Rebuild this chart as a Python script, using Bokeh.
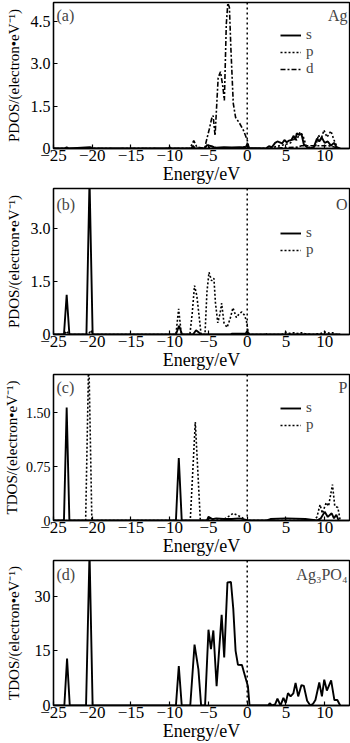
from bokeh.plotting import figure
from bokeh.layouts import column
from bokeh.models import Range1d, FixedTicker, Span, Legend, LegendItem, Label
from bokeh.embed import file_html
from bokeh.resources import INLINE

# ---------------- data (energy eV, DOS) ----------------
X_START, X_END = -25, 13.2
X_TICKS = [-25, -20, -15, -10, -5, 0, 5, 10]
X_LABELS = ["−25", "−20", "−15", "−10", "−5", "0", "5", "10"]

AG_S = [(-25, 0), (-23.6, 0), (-23.3, 0.04), (-23.0, 0), (-20.3, 0.05), (-20.1, 0.03), (-19.9, 0),
        (-10.2, 0), (-10.0, 0.04), (-9.8, 0), (-7.2, 0), (-7.0, 0.1), (-6.8, 0), (-5.5, 0),
        (-5.2, 0.12), (-4.9, 0.1), (-4.6, 0.08), (-4.3, 0.05), (-4.0, 0.03), (-3.0, 0.05),
        (-2.0, 0.04), (-1.0, 0.05), (-0.2, 0.04), (0.0, 0.15), (0.2, 0.02), (2.4, 0), (2.8, 0.08),
        (3.2, 0.05), (3.6, 0.2), (3.9, 0.25), (4.2, 0.22), (4.5, 0.18), (4.8, 0.3), (5.1, 0.22),
        (5.4, 0.28), (5.7, 0.3), (6.0, 0.45), (6.2, 0.3), (6.4, 0.54), (6.7, 0.48), (7.0, 0.52),
        (7.3, 0.15), (7.7, 0.05), (8.1, 0), (8.6, 0.05), (9.0, 0.35), (9.3, 0.25), (9.6, 0.4),
        (10.0, 0.2), (10.4, 0.25), (10.8, 0.1), (11.2, 0.2), (11.6, 0.02), (12.0, 0)]
AG_P = [(-25, 0), (-7.0, 0), (-6.8, 0.05), (-6.5, 0), (-5.0, 0), (-4.7, 0.08), (-4.3, 0.05),
        (-4.0, 0.02), (-1.0, 0.02), (0.0, 0.08), (0.3, 0), (2.5, 0), (3.5, 0.05), (4.2, 0.1),
        (5.0, 0.15), (5.6, 0.2), (6.0, 0.35), (6.4, 0.3), (6.8, 0.58), (7.2, 0.45), (7.6, 0.1),
        (8.2, 0.02), (8.8, 0.05), (9.2, 0.48), (9.5, 0.3), (9.9, 0.65), (10.3, 0.4), (10.8, 0.62),
        (11.2, 0.3), (11.6, 0.05), (12.0, 0)]
AG_D = [(-25, 0), (-7.4, 0), (-6.9, 0.28), (-6.5, 0.05), (-5.5, 0), (-5.2, 0.35), (-4.9, 0.68),
        (-4.6, 1.05), (-4.4, 1.17), (-4.15, 0.45), (-3.75, 2.5), (-3.45, 2.72), (-3.15, 2.2),
        (-2.95, 1.7), (-2.7, 4.4), (-2.5, 5.15), (-2.3, 5.0), (-2.1, 3.5), (-1.8, 1.6),
        (-1.5, 1.1), (-1.0, 0.9), (-0.5, 0.65), (0.0, 0.3), (0.2, 0.05), (0.5, 0), (3.0, 0),
        (6.5, 0.05), (7.0, 0.1), (9.5, 0.1), (10.5, 0.1), (12.0, 0)]

O_S = [(-25, 0), (-23.65, 0), (-23.3, 1.13), (-22.95, 0), (-20.75, 0), (-20.35, 4.4), (-19.95, 0),
       (-9.2, 0), (-8.8, 0.25), (-8.4, 0), (-7.0, 0), (-6.6, 0.12), (-6.2, 0.05), (-5.9, 0),
       (-2.2, 0), (-2.0, 0.02), (-0.2, 0.02), (0.0, 0.1), (0.2, 0), (12.0, 0)]
O_P = [(-25, 0), (-23.6, 0), (-23.3, 0.1), (-23.0, 0), (-20.5, 0), (-20.2, 0.12), (-19.9, 0),
       (-9.2, 0), (-8.85, 0.73), (-8.5, 0), (-7.4, 0), (-7.1, 0.6), (-6.8, 1.39), (-6.5, 1.1),
       (-6.2, 0.5), (-5.95, 0), (-5.45, 0), (-5.2, 1.2), (-4.93, 1.77), (-4.6, 1.53), (-4.3, 1.6),
       (-4.1, 0.9), (-3.8, 0.33), (-3.5, 0.6), (-3.3, 0.89), (-3.0, 0.33), (-2.6, 0.2),
       (-2.2, 0.45), (-1.84, 0.76), (-1.4, 0.48), (-1.0, 0.6), (-0.7, 0.64), (-0.35, 0.55),
       (-0.1, 0.38), (0.1, 0.1), (0.3, 0), (2.3, 0), (2.4, 0.05), (2.5, 0), (4.5, 0), (5.0, 0.06),
       (5.5, 0.03), (6.0, 0.05), (6.5, 0.03), (7.0, 0.05), (7.5, 0.02), (8.5, 0), (9.5, 0.03),
       (10.0, 0.07), (10.5, 0.04), (11.0, 0.05), (11.5, 0), (12.0, 0)]

P_S = [(-25, 0), (-23.65, 0), (-23.3, 1.57), (-22.95, 0), (-9.2, 0), (-8.83, 0.87), (-8.45, 0),
       (-5.2, 0), (-5.0, 0.05), (-4.5, 0.02), (-4.0, 0.03), (-3.0, 0.02), (-2.0, 0.02), (-1.0, 0.03),
       (-0.5, 0.02), (0.0, 0), (2.5, 0), (3.0, 0.02), (5.0, 0.03), (7.5, 0.02), (9.0, 0),
       (9.5, 0.03), (10.0, 0.12), (10.4, 0.05), (10.9, 0.1), (11.2, 0.03), (11.5, 0.08), (11.8, 0)]
P_P = [(-25, 0), (-20.85, 0), (-20.45, 2.3), (-20.05, 0), (-7.35, 0), (-6.7, 1.37), (-6.05, 0),
       (-5.2, 0), (-5.0, 0.03), (-4.5, 0.02), (-3.0, 0.02), (-2.5, 0.05), (-1.8, 0.1), (-1.4, 0.08),
       (-1.0, 0.06), (-0.5, 0.03), (0.0, 0), (8.6, 0), (9.0, 0.05), (9.4, 0.22), (9.7, 0.1),
       (10.2, 0.25), (10.5, 0.2), (11.0, 0.5), (11.3, 0.2), (11.7, 0.18), (12.0, 0)]

TOTAL = [(-25, 0), (-23.6, 0), (-23.25, 12.9), (-22.9, 0), (-20.8, 0), (-20.35, 42), (-19.95, 0),
         (-9.2, 0), (-8.83, 10.8), (-8.45, 0), (-7.35, 0), (-6.8, 16.7), (-6.3, 9.9), (-5.95, 0),
         (-5.44, 0), (-5.0, 20.8), (-4.68, 15.5), (-4.37, 20.6), (-3.95, 5.3), (-3.3, 24.9),
         (-2.97, 13.2), (-2.55, 33.8), (-2.1, 33.9), (-1.8, 26.6), (-1.5, 15), (-1.2, 11.2),
         (-0.68, 11.1), (-0.34, 8.5), (0.09, 5.3), (0.3, 0), (2.7, 0), (2.9, 0.6), (3.2, 0),
         (3.6, 0.3), (3.9, 1.9), (4.3, 0), (4.67, 2.1), (4.97, 0.7), (5.26, 3.4), (5.6, 2.5),
         (5.95, 3.3), (6.24, 6.2), (6.58, 2.5), (7.0, 5.6), (7.3, 5.4), (7.73, 1.3), (8.15, 0),
         (8.5, 0.5), (8.8, 1.5), (9.3, 6.3), (9.64, 2.5), (9.94, 7.1), (10.28, 4.1), (10.83, 6.9),
         (11.25, 1.5), (11.63, 1.5), (12.0, 0)]

# ---------------- styling ----------------
FONT = "Liberation Serif"
STYLES = {
    "s": dict(line_dash="solid", line_width=1.9),
    "p": dict(line_dash="2 2", line_width=1.6),
    "d": dict(line_dash="5 2 2 2", line_width=1.6),
}


def panel(h, y_end, yticks, ylabels, ylabel, tag, name, series, legend_bottoms,
          ytick_size, ylabel_standoff, tag_y):
    p = figure(width=350, height=h, x_range=Range1d(X_START, X_END), y_range=Range1d(0, y_end),
               output_backend="svg", toolbar_location=None,
               min_border_left=49, min_border_right=1, min_border_top=2, min_border_bottom=0)
    p.grid.visible = False
    p.outline_line_color = "black"
    p.outline_line_width = 1.3
    p.background_fill_color = "white"
    p.border_fill_color = "white"

    xa = p.xaxis[0]
    xa.ticker = FixedTicker(ticks=X_TICKS)
    xa.major_label_overrides = {t: l for t, l in zip(X_TICKS, X_LABELS)}
    xa.axis_label = "Energy/eV"

    ya = p.yaxis[0]
    ya.ticker = FixedTicker(ticks=yticks)
    ya.major_label_overrides = {t: l for t, l in zip(yticks, ylabels)}
    ya.axis_label = ylabel

    for ax in (xa, ya):
        ax.major_label_text_font = FONT
        ax.major_label_text_color = "black"
        ax.axis_label_text_font = FONT
        ax.axis_label_text_font_style = "normal"
        ax.axis_label_text_color = "black"
        ax.major_tick_in = 4
        ax.major_tick_out = 0
        ax.minor_tick_in = 0
        ax.minor_tick_out = 0
        ax.axis_line_color = "black"
        ax.axis_line_width = 1.3
        ax.major_tick_line_color = "black"
        ax.major_tick_line_width = 1.2
    xa.major_label_text_font_size = "17px"
    xa.axis_label_text_font_size = "18px"
    xa.major_label_standoff = 1
    xa.axis_label_standoff = 0
    ya.major_label_text_font_size = ytick_size
    ya.axis_label_text_font_size = "15px"
    ya.major_label_standoff = 3
    ya.axis_label_standoff = ylabel_standoff

    renderers = []
    for key, data in series:
        xs = [e for e, _ in data]
        ys = [v for _, v in data]
        r = p.line(xs, ys, line_color="black", **STYLES[key])
        renderers.append((key, r))

    p.add_layout(Span(location=0, dimension="height", line_color="black",
                      line_dash="2 3", line_width=1.5))

    for (key, r), yb in zip(renderers, legend_bottoms):
        leg = Legend(items=[LegendItem(label=key, renderers=[r])], location=(227, yb),
                     padding=0, margin=0, spacing=0, glyph_width=21, glyph_height=14,
                     label_height=14, label_standoff=5, label_text_font=FONT,
                     label_text_font_size="15px", background_fill_alpha=0,
                     border_line_alpha=0)
        p.add_layout(leg)

    p.add_layout(Label(x=X_START, y=tag_y, x_units="data", y_units="screen", text=tag,
                       x_offset=3, text_font=FONT, text_font_size="16px",
                       text_baseline="middle", text_align="left"))
    p.add_layout(Label(x=X_END, y=tag_y, x_units="data", y_units="screen", text=name,
                       x_offset=-2, text_font=FONT, text_font_size="16px",
                       text_baseline="middle", text_align="right"))
    return p


pa = panel(186, 5.17, [0, 1.5, 3.0, 4.5], ["0", "1.5", "3.0", "4.5"],
           "PDOS/(electron•eV⁻¹)", "(a)", "Ag",
           [("s", AG_S), ("p", AG_P), ("d", AG_D)], [105, 88, 71], "16px", 6, 133)
pb = panel(186, 4.15, [0, 1.5, 3.0], ["0", "1.5", "3.0"],
           "PDOS/(electron•eV⁻¹)", "(b)", "O",
           [("s", O_S), ("p", O_P)], [93, 76], "16px", 6, 130)
pc = panel(186, 2.03, [0, 0.75, 1.5], ["0", "0.75", "1.50"],
           "TDOS/(electron•eV⁻¹)", "(c)", "P",
           [("s", P_S), ("p", P_P)], [104, 87], "14px", 3, 133)
pd = panel(185, 39.8, [0, 15, 30], ["0", "15", "30"],
           "TDOS/(electron•eV⁻¹)", "(d)", "Ag₃PO₄",
           [("s", TOTAL)], [], "16px", 10, 131)

layout = column(pa, pb, pc, pd)
open("out.html", "w").write(file_html(layout, INLINE))
